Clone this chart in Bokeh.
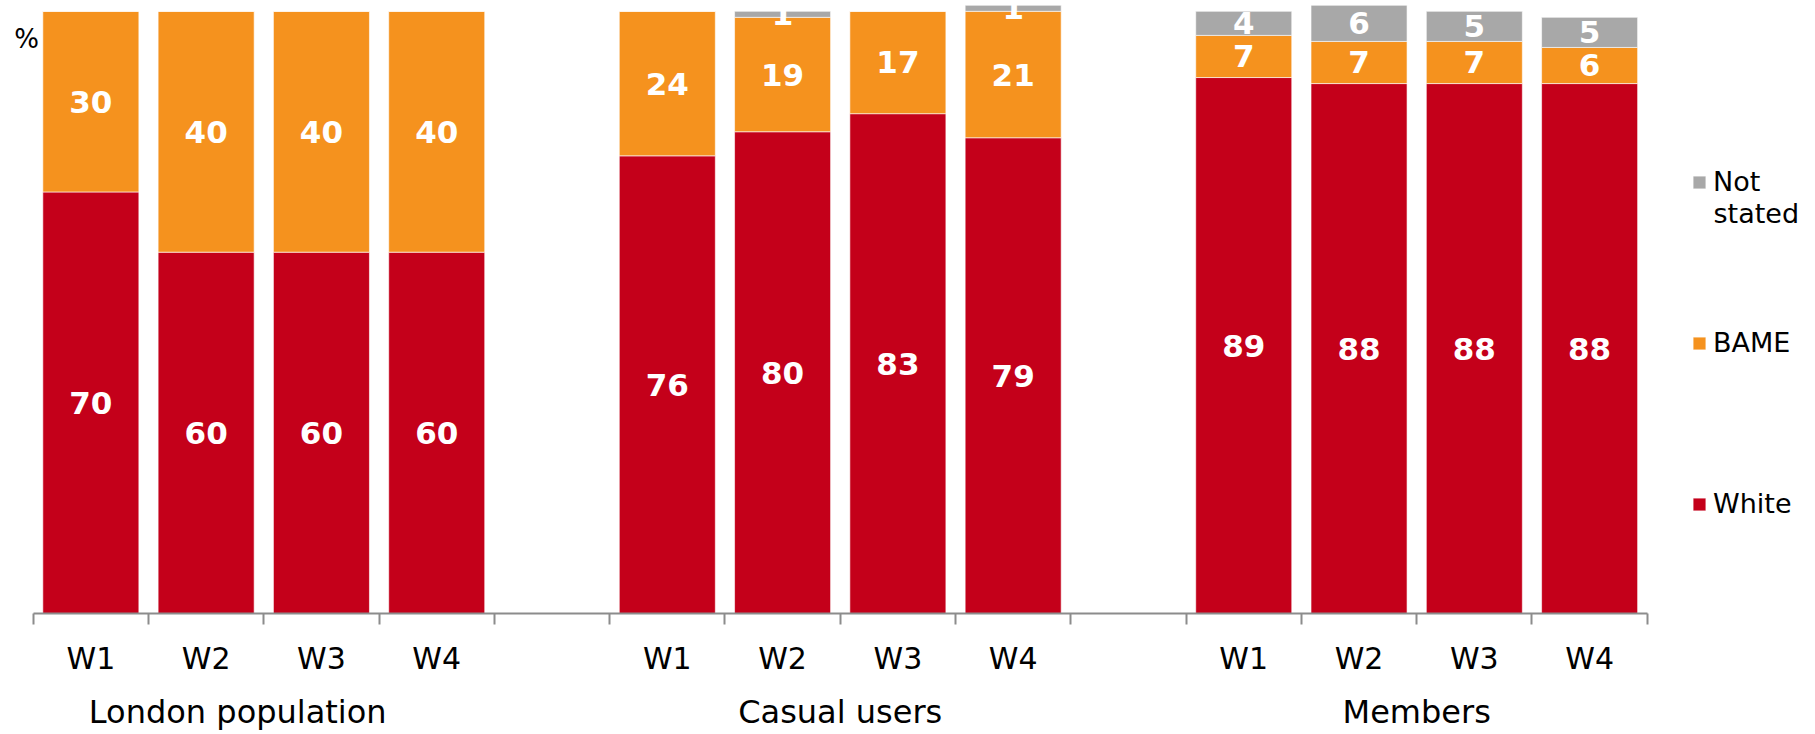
from bokeh.plotting import figure
from bokeh.models import (Range1d, LinearAxis, FixedTicker, Legend, LegendItem,
                          Label, ColumnDataSource)
from bokeh.core.properties import value
from bokeh.embed import file_html
from bokeh.resources import INLINE

# ---------------- data ----------------
groups = ["London population", "Casual users", "Members"]
weeks = ["W1", "W2", "W3", "W4"]
series = ["White", "BAME", "Not stated"]
white = [70, 60, 60, 60, 76, 80, 83, 79, 89, 88, 88, 88]
bame = [30, 40, 40, 40, 24, 19, 17, 21, 7, 7, 7, 6]
not_stated = [0, 0, 0, 0, 0, 1, 0, 1, 4, 6, 5, 5]
colors = ["#C4001A", "#F5921E", "#A8A8A8"]

# ---------------- layout ----------------
W, H = 1815, 734
GAP = 1                      # one empty slot between groups
SLOT_PX = 115.29             # width of one category slot in pixels
LEFT_PX = 32.7               # pixel position of the first slot boundary
BOTTOM = 121                 # space below the plotting area
PX_PER_PCT = 6.022
FB = H - BOTTOM              # frame height in px

xpos = []
for gi in range(len(groups)):
    for wi in range(len(weeks)):
        xpos.append(gi * (len(weeks) + GAP) + wi + 0.5)
n_slots = len(groups) * len(weeks) + (len(groups) - 1) * GAP

x0 = -LEFT_PX / SLOT_PX
x1 = x0 + W / SLOT_PX
ytop = FB / PX_PER_PCT

src = ColumnDataSource(dict(x=xpos, White=white, BAME=bame, **{"Not stated": not_stated}))

FONT = "DejaVu Sans"

p = figure(width=W, height=H, x_range=Range1d(x0, x1), y_range=Range1d(0, ytop),
           output_backend="svg", toolbar_location=None,
           x_axis_location=None, y_axis_location=None, title=None,
           min_border_left=0, min_border_right=0, min_border_top=0, min_border_bottom=BOTTOM)
p.outline_line_color = None
p.grid.visible = False
p.background_fill_color = "white"
p.border_fill_color = "white"

rs = p.vbar_stack(series, x="x", width=0.833, source=src, color=colors,
                  line_color="white", line_alpha=0.6, line_width=1)

# data labels
lx, ly, lt = [], [], []
for i, x in enumerate(xpos):
    base = 0
    for vals in (white, bame, not_stated):
        v = vals[i]
        if v > 0:
            lx.append(x)
            ly.append(base + v / 2)
            lt.append(str(v))
        base += v
lab = ColumnDataSource(dict(x=lx, y=ly, text=lt))
p.text(x="x", y="y", text="text", source=lab, text_align="center", text_baseline="middle",
       text_color="white", text_font=value(FONT), text_font_style="bold", text_font_size="31px")

# x axis: week labels, ticks at slot boundaries
overrides = {x: weeks[i % len(weeks)] for i, x in enumerate(xpos)}
xa = LinearAxis(ticker=FixedTicker(ticks=xpos, minor_ticks=list(range(n_slots + 1))),
                major_label_overrides=overrides, bounds=(0, n_slots))
xa.axis_line_color = "#8C8C8C"
xa.axis_line_width = 2
xa.major_tick_out = 0
xa.major_tick_in = 0
xa.major_tick_line_color = None
xa.minor_tick_out = 11
xa.minor_tick_in = 0
xa.minor_tick_line_color = "#8C8C8C"
xa.minor_tick_line_width = 2
xa.major_label_text_font = FONT
xa.major_label_text_font_size = "30px"
xa.major_label_text_color = "black"
xa.major_label_standoff = 16
p.add_layout(xa, "below")

# second axis: group labels
gcent = [gi * (len(weeks) + GAP) + len(weeks) / 2 for gi in range(len(groups))]
gcent[0] -= 0.226   # first group label sits a little left of centre
ga = LinearAxis(ticker=FixedTicker(ticks=gcent, minor_ticks=[]),
                major_label_overrides={c: g for c, g in zip(gcent, groups)})
ga.axis_line_color = None
ga.major_tick_line_color = None
ga.minor_tick_line_color = None
ga.major_tick_out = 0
ga.major_tick_in = 0
ga.major_label_text_font = FONT
ga.major_label_text_font_size = "32px"
ga.major_label_text_color = "black"
ga.major_label_standoff = 14
p.add_layout(ga, "below")

# percent sign
p.add_layout(Label(x=26, x_units="screen", y=FB - 38, y_units="screen", text="%",
                   text_align="center", text_baseline="middle",
                   text_font=FONT, text_font_size="26px", text_color="black"))

# legends
common = dict(border_line_color=None, background_fill_alpha=0, padding=0, margin=0,
              glyph_width=16, glyph_height=16, label_standoff=6,
              label_text_font=FONT, label_text_font_size="27px", label_text_color="black")
leg1 = Legend(items=[LegendItem(label="Not", renderers=[rs[2]])],
              location=(1691, FB - 197), **common)
leg2 = Legend(items=[LegendItem(label="BAME", renderers=[rs[1]]),
                     LegendItem(label="White", renderers=[rs[0]])],
              location=(1691, FB - 519), spacing=130, **common)
p.add_layout(leg1, "center")
p.add_layout(leg2, "center")
# second line of the "Not stated" legend label
p.add_layout(Label(x=1713, x_units="screen", y=FB - 213, y_units="screen", text="stated",
                   text_align="left", text_baseline="middle",
                   text_font=FONT, text_font_size="27px", text_color="black"))

open("out.html", "w").write(file_html(p, INLINE))
